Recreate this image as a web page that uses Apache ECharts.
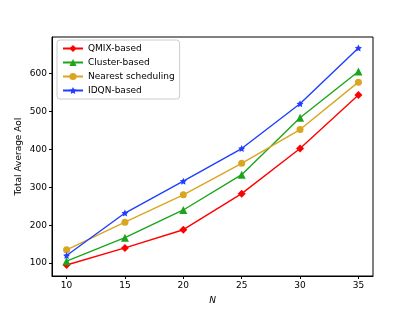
<!DOCTYPE html>
<html><head><meta charset="utf-8">
<script src="https://cdn.jsdelivr.net/npm/echarts@6/dist/echarts.min.js"></script>
<style>html,body{margin:0;padding:0;background:#fff}#c{width:415px;height:311px}</style>
</head><body><div id="c"></div>
<script>
const xValues = [10, 15, 20, 25, 30, 35];
const qmix = [95, 140, 188, 283, 402, 543];
const cluster = [105, 167, 240, 333, 483, 605];
const nearest = [135, 208, 280, 363, 452, 577];
const idqn = [120, 232, 316, 402, 520, 667];
const yTicks = [100, 200, 300, 400, 500, 600];
const seriesNames = ['QMIX-based', 'Cluster-based', 'Nearest scheduling', 'IDQN-based'];

const font = 'DejaVu Sans';
function pairs(v){ return xValues.map((x,i)=>[x,v[i]]); }
function mk(name, data, color, symbol, size){
  return {name, type:'line', data:pairs(data), symbol, symbolSize:size,
    lineStyle:{color, width:1.4}, itemStyle:{color, borderWidth:0}, z:3, animation:false};
}
const chart = echarts.init(document.getElementById('c'), null, {renderer:'canvas'});
chart.setOption({
  animation:false,
  textStyle:{fontFamily:font},
  grid:{left:52, right:42, top:37, bottom:35, show:true, borderColor:'#000', borderWidth:1, backgroundColor:'transparent'},
  legend:{
    orient:'vertical', left:57, top:40, itemWidth:20, itemHeight:9, itemGap:5,
    backgroundColor:'#fff', borderColor:'#cccccc', borderWidth:1, borderRadius:3,
    padding:[4,5,4,5],
    textStyle:{fontFamily:font, fontSize:9, color:'#000'},
    data:seriesNames
  },
  xAxis:{type:'value', min:8.75, max:36.25, name:'N', nameLocation:'middle', nameGap:20, nameMoveOverlap:false,
    nameTextStyle:{fontFamily:font, fontSize:9, fontStyle:'italic', color:'#000'},
    axisLine:{show:true, lineStyle:{color:'#000', width:1}},
    axisTick:{show:true, length:3, lineStyle:{color:'#000'}, customValues:xValues},
    axisLabel:{fontFamily:font, fontSize:9, color:'#000', margin:5, customValues:xValues},
    splitLine:{show:false}},
  yAxis:{type:'value', min:66, max:696, name:'Total Average AoI', nameLocation:'middle', nameGap:29, nameRotate:90, nameMoveOverlap:false,
    nameTextStyle:{fontFamily:font, fontSize:9, color:'#000'},
    axisLine:{show:true, lineStyle:{color:'#000', width:1}},
    axisTick:{show:true, length:3, lineStyle:{color:'#000'}, customValues:yTicks},
    axisLabel:{fontFamily:font, fontSize:9, color:'#000', margin:5, customValues:yTicks},
    splitLine:{show:false}},
  series:[
    mk(seriesNames[0], qmix, '#ff0000', 'diamond', 8),
    mk(seriesNames[1], cluster, '#1ca51c', 'triangle', 8),
    mk(seriesNames[2], nearest, '#daa520', 'circle', 7),
    mk(seriesNames[3], idqn, '#1f3fff', 'path://M0,-10 L2.9,-4 L9.5,-3.1 L4.7,1.5 L5.9,8.1 L0,5 L-5.9,8.1 L-4.7,1.5 L-9.5,-3.1 L-2.9,-4 Z', 7)
  ]
});
</script></body></html>
